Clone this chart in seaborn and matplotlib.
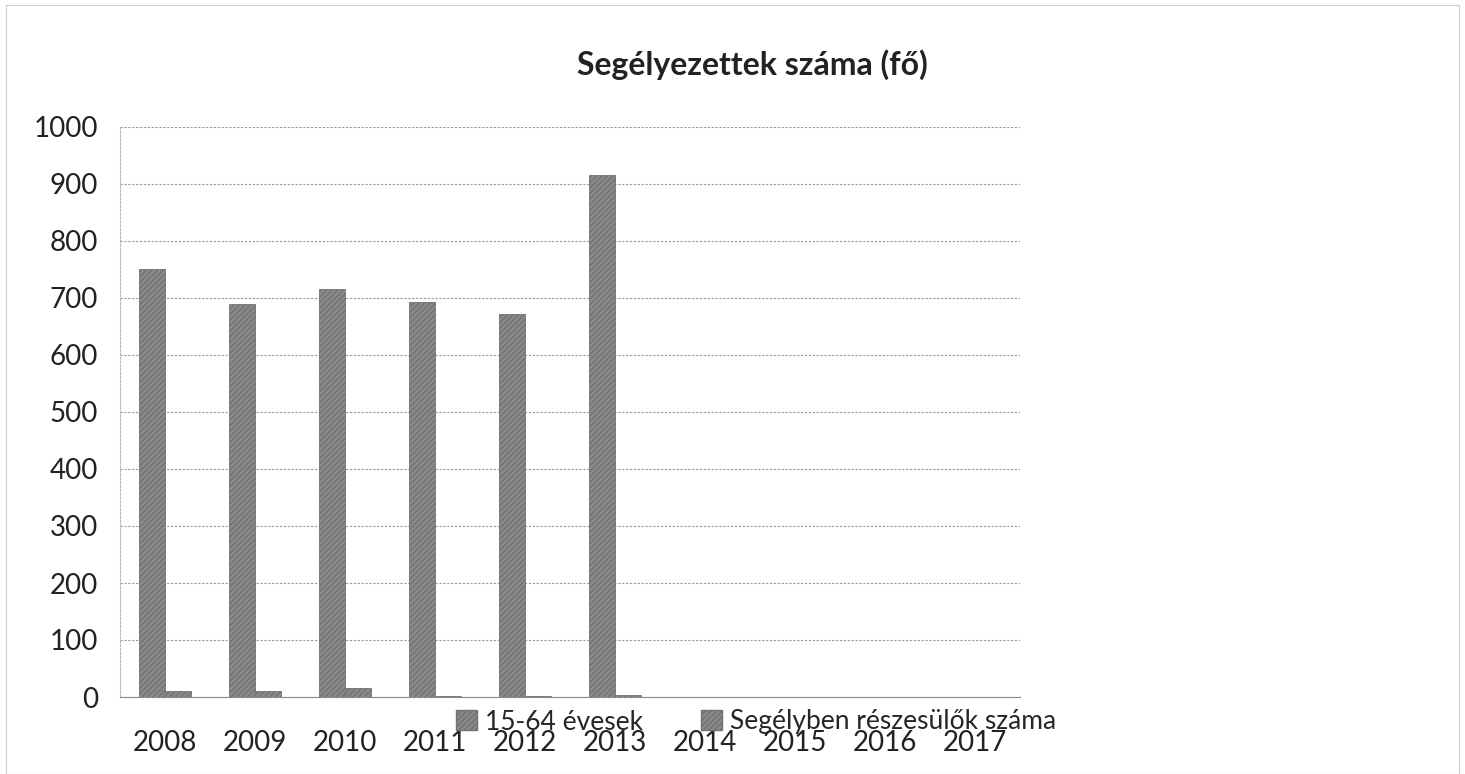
import pandas as pd
import numpy as np
import matplotlib
matplotlib.use('Agg')
import matplotlib.pyplot as plt
import seaborn as sns
from matplotlib.ticker import FixedLocator

# Adatok
evek = ['2008', '2009', '2010', '2011', '2012', '2013', '2014', '2015', '2016', '2017']
evesek_15_64 = [750, 690, 715, 693, 672, 915, np.nan, np.nan, np.nan, np.nan]
segelyezettek = [10, 10, 16, 1, 1, 3, np.nan, np.nan, np.nan, np.nan]
sorozatok = ['15-64 évesek', 'Segélyben részesülők száma']

df = pd.DataFrame({'ev': evek, sorozatok[0]: evesek_15_64, sorozatok[1]: segelyezettek})
df_long = df.melt(id_vars='ev', var_name='sorozat', value_name='fo')

sns.set_style("white")
plt.rcParams['font.family'] = ['Lato', 'DejaVu Sans']

fig = plt.figure(figsize=(14.65, 7.74), dpi=100)
ax = fig.add_axes([120 / 1465, 1 - 697 / 774, 900 / 1465, 570 / 774])

sns.barplot(data=df_long, x='ev', y='fo', hue='sorozat', order=evek, hue_order=sorozatok,
            palette=['#8a8a8a', '#8a8a8a'], width=0.58, ax=ax, legend=False,
            edgecolor='#727272', linewidth=0.6, hatch='//////')

ax.set_ylim(0, 1000)
ax.set_yticks(range(0, 1001, 100))
ax.set_xlim(-0.5, len(evek) - 0.5)
ax.yaxis.grid(True, linestyle=(0, (2, 1.5)), color='#9a9a9a', linewidth=0.8)
ax.set_axisbelow(True)
ax.set_xlabel('')
ax.set_ylabel('')

for s in ['top', 'right']:
    ax.spines[s].set_visible(False)
ax.spines['left'].set_color('#bbbbbb')
ax.spines['left'].set_linestyle((0, (2, 1.5)))
ax.spines['bottom'].set_color('#8a8a8a')

ax.tick_params(axis='y', labelsize=20, length=0, pad=16, colors='#222222')
ax.tick_params(axis='x', which='major', labelsize=20, length=0, pad=24, colors='#222222')
ax.xaxis.set_minor_locator(FixedLocator(np.arange(-0.5, len(evek), 1)))
ax.tick_params(axis='x', which='minor', length=6, color='#8a8a8a', direction='out')

fig.text(752 / 1465, 1 - 65 / 774, 'Segélyezettek száma (fő)', ha='center', va='center',
         fontsize=23, fontweight='bold', color='#222222')

handles = [plt.Rectangle((0, 0), 1, 1, facecolor='#8a8a8a', edgecolor='#727272', hatch='//////')
           for _ in sorozatok]
fig.legend(handles, sorozatok, loc='center', bbox_to_anchor=(756 / 1465, 1 - 722 / 774),
           ncol=2, frameon=False, fontsize=19, handlelength=0.8, handleheight=0.8,
           columnspacing=2.2, handletextpad=0.3)

# halvány keret a kép szélén
fig.patches.append(plt.Rectangle((0.004, 0.0), 0.992, 0.994, transform=fig.transFigure,
                                 fill=False, edgecolor='#cccccc', linewidth=0.8))

fig.savefig('out.png', dpi=100)
